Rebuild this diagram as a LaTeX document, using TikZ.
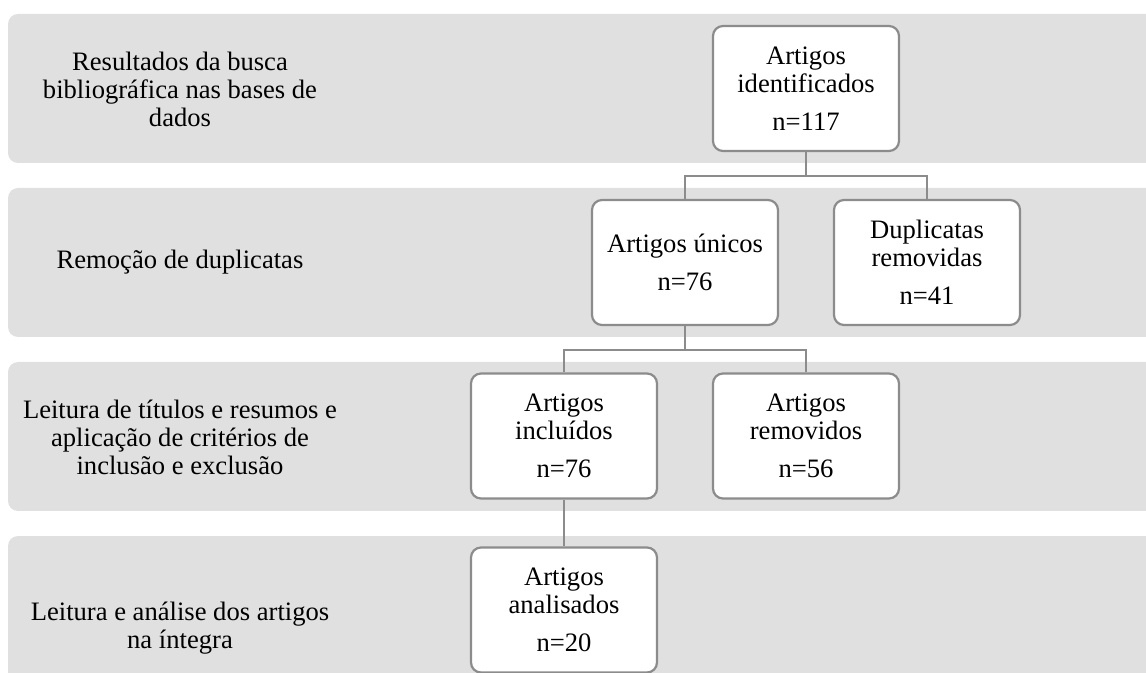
\documentclass[tikz,border=0pt]{standalone}
\usepackage{fontspec}
\setmainfont{Liberation Serif}
\definecolor{bandgray}{RGB}{224,224,224}
\definecolor{linegray}{RGB}{140,140,140}

\begin{document}
\begin{tikzpicture}[x=0.5pt, y=-0.5pt,
    every node/.style={font=\fontsize{13.3}{14}\selectfont, align=center},
    band/.style={fill=bandgray, rounded corners=5pt},
    stage/.style={draw=linegray, line width=1.1pt, fill=white, rounded corners=5pt,
      minimum width=93pt, minimum height=62.5pt, inner sep=0pt},
    link/.style={draw=linegray, line width=1.2pt}]
  \useasboundingbox (0, 0) rectangle (1146, 673);

  \fill [band] (8, 14) rectangle (1170, 163);
  \fill [band] (8, 188) rectangle (1170, 337);
  \fill [band] (8, 362) rectangle (1170, 511);
  \fill [band] (8, 536) rectangle (1170, 700);

  \draw (180, 89) node (s1) {Resultados da busca\\bibliográfica nas bases de\\dados};
  \draw (180, 262) node (s2) {Remoção de duplicatas};
  \draw (180, 437) node (s3) {Leitura de títulos e resumos e\\aplicação de critérios de\\inclusão e exclusão};
  \draw (180, 628) node (s4) {Leitura e análise dos artigos\\na íntegra};

  \draw (806, 88.5) node [stage] (ident) {Artigos\\identificados\\[5pt]n=117};
  \draw (685, 262.5) node [stage] (unicos) {Artigos únicos\\[5pt]n=76};
  \draw (927, 262.5) node [stage] (dupl) {Duplicatas\\removidas\\[5pt]n=41};
  \draw (564, 436) node [stage] (incl) {Artigos\\incluídos\\[5pt]n=76};
  \draw (806, 436) node [stage] (remov) {Artigos\\removidos\\[5pt]n=56};
  \draw (564, 610) node [stage] (anal) {Artigos\\analisados\\[5pt]n=20};

  \coordinate (j1) at (806, 176);
  \coordinate (j2) at (685, 350);
  \draw [link] (ident) -- (j1) -| (unicos);
  \draw [link] (j1) -| (dupl);
  \draw [link] (unicos) -- (j2) -| (incl);
  \draw [link] (j2) -| (remov);
  \draw [link] (incl) -- (anal);
\end{tikzpicture}
\end{document}
